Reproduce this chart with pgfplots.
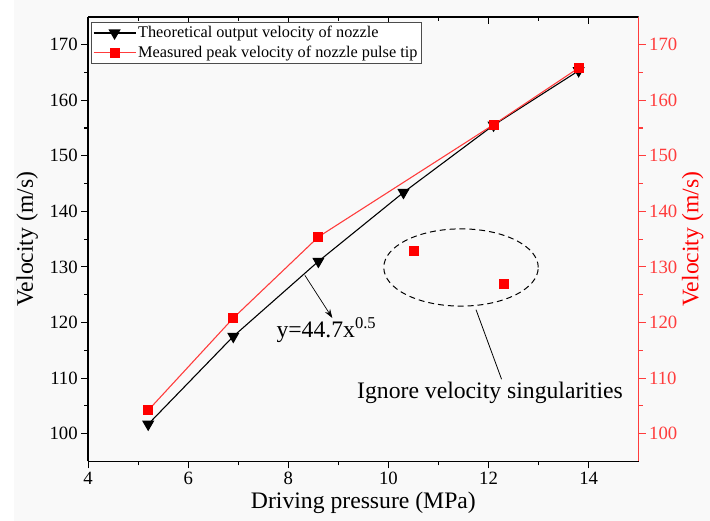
\documentclass[border=0pt]{standalone}
\usepackage{pgfplots}
\pgfplotsset{compat=1.18}
\usepackage{fontspec}
\setmainfont{Liberation Serif}
\usetikzlibrary{arrows.meta}
\definecolor{bg}{RGB}{249,249,249}
\definecolor{axred}{RGB}{255,60,60}
\begin{document}
\begin{tikzpicture}
\pgfplotsset{
  every axis/.append style={
    scale only axis, width=556bp, height=449bp,
    xmin=4, xmax=15, ymin=95, ymax=175,
    xtick={4,6,...,14}, ytick={100,110,...,170},
    minor x tick num=1, minor y tick num=1,
    /pgf/number format/assume math mode=true,
    tick label style={font=\fontsize{19}{19}\selectfont},
    label style={font=\fontsize{24}{24}\selectfont},
    major tick length=7bp, minor tick length=4bp,
    every tick/.style={line width=1.1bp},
    axis line style={line width=1.4bp},
  }
}
% background
\fill[bg] (-75bp,-60bp) rectangle (556bp+72bp,449bp+17bp);
% top ticks (inside)
\begin{axis}[
  axis x line*=top, axis y line=none,
  tick align=inside, xticklabels={},
  axis line style={draw=none},
]
\end{axis}
% main axis
\begin{axis}[
  name=main,
  axis x line*=bottom, axis y line*=left,
  tick align=outside,
  xlabel={Driving pressure (MPa)},
  ylabel={Velocity (m/s)},
  xlabel style={yshift=-1bp},
  ylabel style={yshift=5bp},
  legend style={at={(0.0045,0.988)}, anchor=north west,
    font=\fontsize{16.5}{19}\selectfont, draw=black!70, line width=0.8bp,
    fill=white, inner sep=2bp, row sep=3bp},
  legend cell align=left,
  legend image code/.code={%
    \draw[mark repeat=2,mark phase=2] plot coordinates {(0cm,0cm) (0.75cm,0cm) (1.5cm,0cm)};},
]
\draw[line width=1.4bp] (rel axis cs:0,1) -- (rel axis cs:1,1);
\addplot[black, line width=1.1bp, mark=triangle*, mark size=6bp,
  mark options={rotate=180, fill=black}] coordinates {
  (5.2,101.7) (6.9,117.5) (8.6,131.0) (10.3,143.4) (12.1,155.5) (13.8,165.3)};
\addlegendentry{Theoretical output velocity of nozzle}
\addplot[axred, line width=1.1bp, mark=square*, mark size=4.5bp,
  mark options={fill=red, draw=red}] coordinates {
  (5.2,104.2) (6.9,120.8) (8.6,135.4) (12.1,155.6) (13.8,165.8)};
\addlegendentry{Measured peak velocity of nozzle pulse tip}
\addplot[only marks, mark=square*, mark size=4.5bp,
  mark options={fill=red, draw=red}, forget plot] coordinates {
  (10.5,133.0) (12.3,127.0)};
% annotations
\draw[line width=0.7bp, -{Stealth[length=9bp,width=6bp]}] (axis cs:8.33,128.5) -- (axis cs:8.88,120.8);
\node[font=\fontsize{24}{24}\selectfont] at (axis cs:8.76,118.6) {y=44.7x\textsuperscript{0.5}};
\draw[dashed, line width=1.0bp, dash pattern=on 6bp off 4bp] (axis cs:11.45,129.9) ellipse [x radius=78bp, y radius=39bp];
\draw[line width=0.8bp] (axis cs:11.75,122.3) -- (axis cs:12.26,109.8);
\node[font=\fontsize{24}{24}\selectfont] at (axis cs:12.03,107.4) {Ignore velocity singularities};
\end{axis}
% right axis
\begin{axis}[
  axis x line=none, axis y line*=right,
  tick align=outside,
  ylabel={Velocity (m/s)},
  ylabel style={color=red, yshift=2bp},
  y axis line style={draw=axred},
  yticklabel style={color=axred},
  every tick/.style={axred, line width=1.1bp},
]
\end{axis}
\pgfresetboundingbox
\path[use as bounding box] (-89bp,-60bp) rectangle (556bp+72bp,449bp+17bp);
\end{tikzpicture}
\end{document}
